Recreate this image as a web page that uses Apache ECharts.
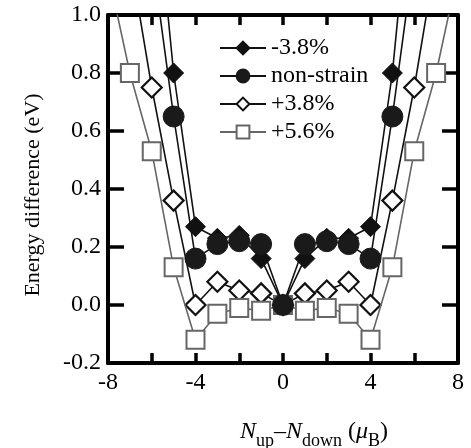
<!DOCTYPE html>
<html><head><meta charset="utf-8">
<script src="https://cdn.jsdelivr.net/npm/echarts@6/dist/echarts.min.js"></script>
<style>html,body{margin:0;padding:0;background:#fff}#c{width:471px;height:448px}</style>
</head><body><div id="c"></div>
<script>
// Data
const xMinus38 = [-6,-5,-4,-3,-2,-1,0,1,2,3,4,5,6];
const yMinus38 = [1.57,0.80,0.27,0.23,0.24,0.16,0.00,0.16,0.23,0.23,0.27,0.80,1.57];
const xNonStrain = [-6,-5,-4,-3,-2,-1,0,1,2,3,4,5,6];
const yNonStrain = [1.21,0.65,0.16,0.21,0.22,0.21,0.00,0.21,0.22,0.21,0.16,0.65,1.21];
const xPlus38 = [-7,-6,-5,-4,-3,-2,-1,0,1,2,3,4,5,6,7];
const yPlus38 = [1.20,0.75,0.36,0.00,0.08,0.05,0.04,0.00,0.04,0.05,0.08,0.00,0.36,0.75,1.20];
const xPlus56 = [-8,-7,-6,-5,-4,-3,-2,-1,0,1,2,3,4,5,6,7,8];
const yPlus56 = [1.15,0.80,0.53,0.13,-0.12,-0.03,-0.01,-0.02,0.00,-0.02,-0.01,-0.03,-0.12,0.13,0.53,0.80,1.15];
const seriesNames = ['-3.8%','non-strain','+3.8%','+5.6%'];
const xTickLabels = [-8,-4,0,4,8];

const pair = (xs, ys) => xs.map((x,i)=>[x, ys[i]]);
const FONT = 'Liberation Serif';
const chart = echarts.init(document.getElementById('c'), null, {renderer:'canvas'});

const axisCommon = {
  axisLine:{show:true, onZero:false, lineStyle:{color:'#000', width:4}},
  splitLine:{show:false}
};

chart.setOption({
  animation:false,
  backgroundColor:'#fff',
  textStyle:{fontFamily:FONT},
  grid:{left:108, right:13, top:15, bottom:85, containLabel:false},
  legend:{
    data:seriesNames,
    orient:'vertical', left:214, top:31,
    itemWidth:46, itemHeight:16, itemGap:4,
    textStyle:{fontFamily:FONT, fontSize:24, color:'#000'}
  },
  xAxis:[
    Object.assign({type:'value', min:-8, max:8, interval:2, position:'bottom',
      axisTick:{show:true, inside:true, length:10, lineStyle:{color:'#000', width:3.5}},
      axisLabel:{show:true, margin:8, fontFamily:FONT, fontSize:24, color:'#000',
        formatter:v => xTickLabels.includes(v) ? String(v) : ''}}, axisCommon),
    Object.assign({type:'value', min:-8, max:8, interval:2, position:'top',
      axisTick:{show:true, inside:true, length:10, lineStyle:{color:'#000', width:3.5}},
      axisLabel:{show:false}}, axisCommon)
  ],
  yAxis:[
    Object.assign({type:'value', min:-0.2, max:1.0, interval:0.2, position:'left',
      name:'Energy difference (eV)', nameLocation:'middle', nameGap:64,
      nameTextStyle:{fontFamily:FONT, fontSize:22, color:'#000', padding:[0,0,0,-12]},
      axisTick:{show:true, inside:true, length:16, lineStyle:{color:'#000', width:3.5}},
      axisLabel:{show:true, margin:7, fontFamily:FONT, fontSize:24, color:'#000',
        formatter:v => v.toFixed(1)}}, axisCommon),
    Object.assign({type:'value', min:-0.2, max:1.0, interval:0.2, position:'right',
      axisTick:{show:true, inside:true, length:16, lineStyle:{color:'#000', width:3.5}},
      axisLabel:{show:false}}, axisCommon)
  ],
  series:[
    {name:'+3.8%', type:'line', data:pair(xPlus38,yPlus38), symbol:'diamond', symbolSize:20,
      lineStyle:{color:'#111', width:1.6}, itemStyle:{color:'#fff', borderColor:'#111', borderWidth:2.2}, z:2},
    {name:'+5.6%', type:'line', data:pair(xPlus56,yPlus56), symbol:'rect', symbolSize:18,
      lineStyle:{color:'#666', width:1.6}, itemStyle:{color:'#fff', borderColor:'#666', borderWidth:2}, z:3},
    {name:'-3.8%', type:'line', data:pair(xMinus38,yMinus38), symbol:'diamond', symbolSize:20,
      lineStyle:{color:'#111', width:1.6}, itemStyle:{color:'#111', borderColor:'#111', borderWidth:1}, z:4},
    {name:'non-strain', type:'line', data:pair(xNonStrain,yNonStrain), symbol:'circle', symbolSize:21,
      lineStyle:{color:'#111', width:1.6}, itemStyle:{color:'#1a1a1a', borderColor:'#1a1a1a', borderWidth:1}, z:5}
  ],
  graphic:[{
    type:'text', left:240, top:420, z:10,
    style:{
      text:'{i|N}{s|up}{n|–}{i|N}{s|down}{n| (}{i|μ}{s|B}{n|)}',
      rich:{
        i:{fontFamily:FONT, fontSize:24, fontStyle:'italic', fill:'#000', lineHeight:30, verticalAlign:'top'},
        n:{fontFamily:FONT, fontSize:24, fill:'#000', lineHeight:30, verticalAlign:'top'},
        s:{fontFamily:FONT, fontSize:18, fill:'#000', lineHeight:18, verticalAlign:'bottom'}
      }
    }
  }]
});
</script></body></html>
